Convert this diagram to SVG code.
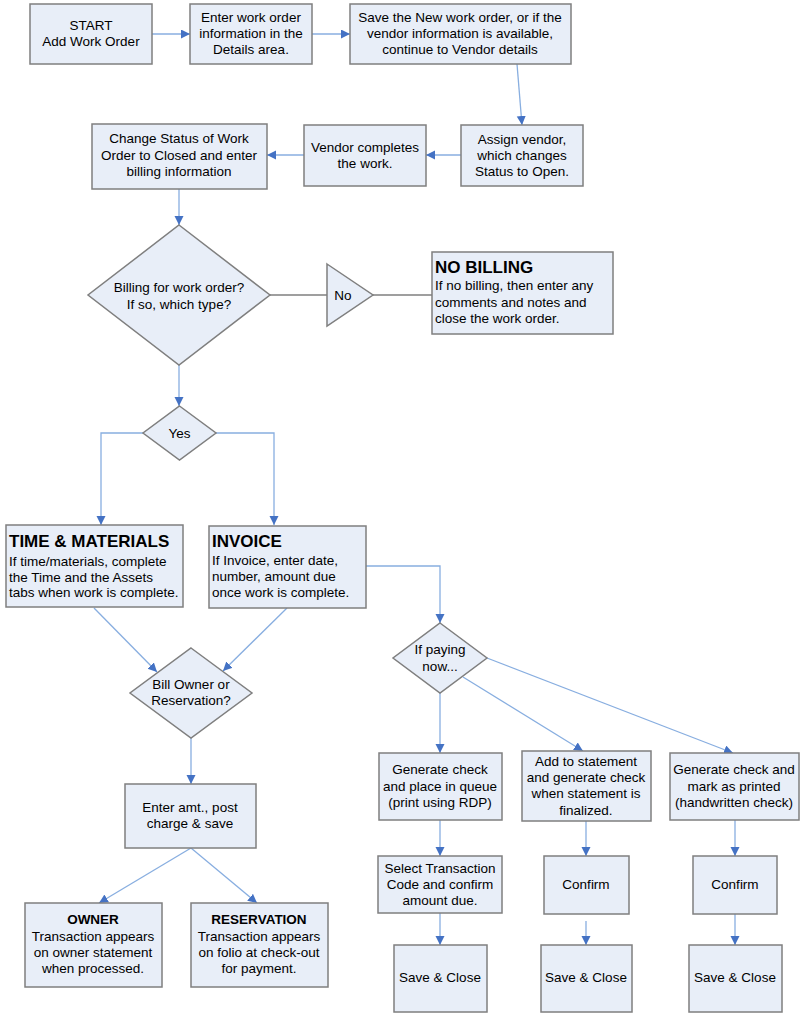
<svg xmlns="http://www.w3.org/2000/svg" width="800" height="1015" viewBox="0 0 800 1015">
<defs>
<marker id="ah" markerWidth="10" markerHeight="10" refX="9" refY="4.5" orient="auto" markerUnits="userSpaceOnUse">
<path d="M0,0 L9,4.5 L0,9 z" fill="#4472c4"/>
</marker>
<style>
.box{fill:#e8eef8;stroke:#7f7f7f;stroke-width:1.5}
.t{font-family:"Liberation Sans",Arial,sans-serif;font-size:13.5px;fill:#000}
.c{text-anchor:middle}
.h{font-weight:bold;font-size:17px}
.hb{font-weight:bold}
.ln{fill:none;stroke:#88aee0;stroke-width:1.3}
.la{fill:none;stroke:#88aee0;stroke-width:1.3;marker-end:url(#ah)}
.lg{fill:none;stroke:#7f7f7f;stroke-width:1.3}
</style>
</defs>
<rect width="800" height="1015" fill="#ffffff"/>

<g id="connectors">
<line class="la" x1="152" y1="34" x2="190" y2="34"/>
<line class="la" x1="312" y1="34" x2="350" y2="34"/>
<line class="la" x1="517" y1="64" x2="522" y2="125"/>
<line class="la" x1="461" y1="155" x2="426" y2="155"/>
<line class="la" x1="304" y1="155" x2="267" y2="155"/>
<line class="la" x1="179" y1="189" x2="179" y2="225"/>
<line class="lg" x1="270" y1="295" x2="327" y2="295"/>
<line class="lg" x1="373" y1="295" x2="432" y2="295"/>
<line class="la" x1="179" y1="365" x2="179" y2="406"/>
<polyline class="la" points="143,433 101,433 101,525"/>
<polyline class="la" points="216,433 274,433 274,525"/>
<polyline class="la" points="366,566 440,566 440,623"/>
<line class="la" x1="94" y1="608" x2="157" y2="672"/>
<line class="la" x1="287" y1="608" x2="223" y2="671"/>
<line class="la" x1="191" y1="738" x2="191" y2="784"/>
<line class="la" x1="191" y1="848" x2="99" y2="903"/>
<line class="la" x1="191" y1="848" x2="257" y2="903"/>
<line class="la" x1="440" y1="693" x2="440" y2="753"/>
<line class="la" x1="463" y1="677" x2="583" y2="751"/>
<line class="la" x1="487" y1="658" x2="733" y2="753"/>
<line class="la" x1="440" y1="820" x2="440" y2="856"/>
<line class="la" x1="440" y1="913" x2="440" y2="945"/>
<line class="la" x1="586" y1="821" x2="586" y2="856"/>
<line class="la" x1="586" y1="921" x2="586" y2="945"/>
<line class="la" x1="735" y1="820" x2="735" y2="856"/>
<line class="la" x1="735" y1="914" x2="735" y2="945"/>
</g>

<g id="start">
<rect class="box" x="30" y="4" width="122" height="60"/>
<text class="t c" x="91" y="30">START</text>
<text class="t c" x="91" y="46">Add Work Order</text>
</g>
<g id="enter-info">
<rect class="box" x="190" y="4" width="122" height="60"/>
<text class="t c" x="251" y="22">Enter work order</text>
<text class="t c" x="251" y="38">information in the</text>
<text class="t c" x="251" y="54">Details area.</text>
</g>
<g id="save-new">
<rect class="box" x="350" y="4" width="221" height="60"/>
<text class="t c" x="460" y="22">Save the New work order, or if the</text>
<text class="t c" x="460" y="38">vendor information is available,</text>
<text class="t c" x="460" y="54">continue to Vendor details</text>
</g>
<g id="assign-vendor">
<rect class="box" x="461" y="125" width="122" height="61"/>
<text class="t c" x="522" y="144">Assign vendor,</text>
<text class="t c" x="522" y="160">which changes</text>
<text class="t c" x="522" y="176">Status to Open.</text>
</g>
<g id="vendor-completes">
<rect class="box" x="304" y="125" width="122" height="61"/>
<text class="t c" x="365" y="152">Vendor completes</text>
<text class="t c" x="365" y="168">the work.</text>
</g>
<g id="change-status">
<rect class="box" x="92" y="124" width="175" height="65"/>
<text class="t c" x="179" y="143">Change Status of Work</text>
<text class="t c" x="179" y="160">Order to Closed and enter</text>
<text class="t c" x="179" y="176">billing information</text>
</g>
<g id="billing-decision">
<polygon class="box" points="179,225 270,295 179,365 88,295"/>
<text class="t c" x="179" y="292">Billing for work order?</text>
<text class="t c" x="179" y="309">If so, which type?</text>
</g>
<g id="no">
<polygon class="box" points="327,264 373,295 327,326"/>
<text class="t c" x="343" y="300">No</text>
</g>
<g id="no-billing">
<rect class="box" x="432" y="252" width="181" height="82"/>
<text class="t h" x="435" y="273">NO BILLING</text>
<text class="t" x="435" y="290">If no billing, then enter any</text>
<text class="t" x="435" y="307">comments and notes and</text>
<text class="t" x="435" y="323">close the work order.</text>
</g>
<g id="yes">
<polygon class="box" points="179.5,406 216,433 179.5,460 143,433"/>
<text class="t c" x="179.5" y="438">Yes</text>
</g>
<g id="time-materials">
<rect class="box" x="6" y="525" width="177" height="82"/>
<text class="t h" x="9" y="547">TIME &amp; MATERIALS</text>
<text class="t" x="9" y="566">If time/materials, complete</text>
<text class="t" x="9" y="582">the Time and the Assets</text>
<text class="t" x="9" y="597">tabs when work is complete.</text>
</g>
<g id="invoice">
<rect class="box" x="209" y="526" width="157" height="82"/>
<text class="t h" x="212" y="547">INVOICE</text>
<text class="t" x="212" y="565">If Invoice, enter date,</text>
<text class="t" x="212" y="581">number, amount due</text>
<text class="t" x="212" y="597">once work is complete.</text>
</g>
<g id="bill-owner">
<polygon class="box" points="191,648 252,693 191,738 130,693"/>
<text class="t c" x="191" y="689">Bill Owner or</text>
<text class="t c" x="191" y="705">Reservation?</text>
</g>
<g id="enter-amt">
<rect class="box" x="125" y="784" width="131" height="64"/>
<text class="t c" x="190" y="812">Enter amt., post</text>
<text class="t c" x="190" y="828">charge &amp; save</text>
</g>
<g id="owner">
<rect class="box" x="25" y="903" width="137" height="84"/>
<text class="t c hb" x="93" y="924">OWNER</text>
<text class="t c" x="93" y="941">Transaction appears</text>
<text class="t c" x="93" y="957">on owner statement</text>
<text class="t c" x="93" y="973">when processed.</text>
</g>
<g id="reservation">
<rect class="box" x="191" y="903" width="137" height="84"/>
<text class="t c hb" x="259" y="924">RESERVATION</text>
<text class="t c" x="259" y="941">Transaction appears</text>
<text class="t c" x="259" y="957">on folio at check-out</text>
<text class="t c" x="259" y="973">for payment.</text>
</g>
<g id="paying-now">
<polygon class="box" points="440,623 487,658 440,693 393,658"/>
<text class="t c" x="440" y="654">If paying</text>
<text class="t c" x="440" y="671">now...</text>
</g>
<g id="gen-queue">
<rect class="box" x="379" y="753" width="123" height="67"/>
<text class="t c" x="440" y="774">Generate check</text>
<text class="t c" x="440" y="791">and place in queue</text>
<text class="t c" x="440" y="807">(print using RDP)</text>
</g>
<g id="add-statement">
<rect class="box" x="522" y="751" width="129" height="70"/>
<text class="t c" x="586" y="766">Add to statement</text>
<text class="t c" x="586" y="782">and generate check</text>
<text class="t c" x="586" y="798">when statement is</text>
<text class="t c" x="586" y="815">finalized.</text>
</g>
<g id="gen-printed">
<rect class="box" x="670" y="753" width="129" height="67"/>
<text class="t c" x="734" y="774">Generate check and</text>
<text class="t c" x="734" y="791">mark as printed</text>
<text class="t c" x="734" y="807">(handwritten check)</text>
</g>
<g id="select-code">
<rect class="box" x="378" y="856" width="124" height="57"/>
<text class="t c" x="440" y="873">Select Transaction</text>
<text class="t c" x="440" y="889">Code and confirm</text>
<text class="t c" x="440" y="905">amount due.</text>
</g>
<g id="confirm-1">
<rect class="box" x="544" y="856" width="85" height="58"/>
<text class="t c" x="586" y="889">Confirm</text>
</g>
<g id="confirm-2">
<rect class="box" x="693" y="856" width="84" height="58"/>
<text class="t c" x="735" y="889">Confirm</text>
</g>
<g id="save-1">
<rect class="box" x="394" y="945" width="93" height="67"/>
<text class="t c" x="440" y="982">Save &amp; Close</text>
</g>
<g id="save-2">
<rect class="box" x="541" y="945" width="91" height="67"/>
<text class="t c" x="586" y="982">Save &amp; Close</text>
</g>
<g id="save-3">
<rect class="box" x="689" y="945" width="93" height="67"/>
<text class="t c" x="735" y="982">Save &amp; Close</text>
</g>
</svg>
